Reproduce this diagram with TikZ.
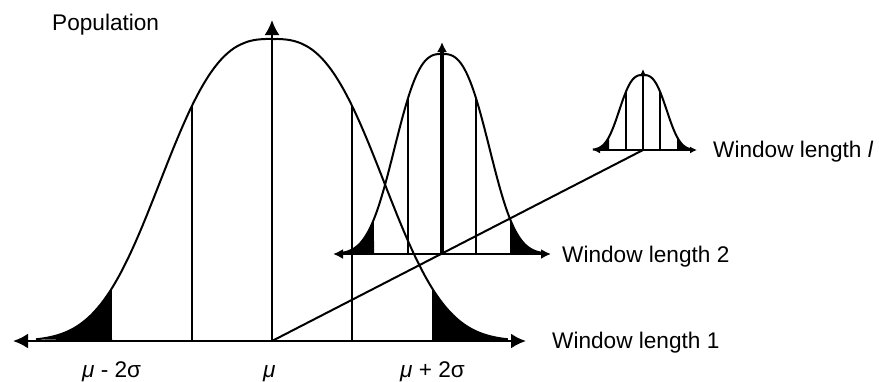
\documentclass[tikz,border=0pt]{standalone}
\usepackage{fontspec}
\setmainfont{Liberation Sans}
\usetikzlibrary{arrows.meta}
\tikzset{
  bigtip/.tip={Latex[length=15bp,width=15bp]},
  midtip/.tip={Latex[length=10bp,width=10bp]},
  smltip/.tip={Latex[length=7bp,width=7bp]},
  curve/.style={line width=2bp},
  tick/.style={line width=2bp},
  axisline/.style={line width=2.4bp},
  lbl/.style={font=\fontsize{22.7}{26}\selectfont, inner sep=0pt, anchor=base west}
}
% cx, axis y, sigma, height, left tip x, right tip x, top tip y, tip name, centre line width
\newcommand{\drawbell}[9]{%
  \def\bcx{#1}\def\bay{#2}\def\bsg{#3}\def\bht{#4}%
  \fill plot[domain=-2.95:-2, samples=30, smooth]
     ({\bcx+\x*\bsg},{\bay-\bht*exp(-0.25*pow(\x*\x+0.00001,1.4))}) -- ({\bcx-2*\bsg},\bay) -- cycle;
  \fill plot[domain=2:2.95, samples=30, smooth]
     ({\bcx+\x*\bsg},{\bay-\bht*exp(-0.25*pow(\x*\x+0.00001,1.4))}) -- ({\bcx+2.95*\bsg},\bay) -- ({\bcx+2*\bsg},\bay) -- cycle;
  \draw[tick] ({\bcx-\bsg},\bay) -- ({\bcx-\bsg},{\bay-\bht*exp(-0.25)});
  \draw[tick] ({\bcx+\bsg},\bay) -- ({\bcx+\bsg},{\bay-\bht*exp(-0.25)});
  \draw[curve] plot[domain=-2.95:2.95, samples=151, smooth]
     ({\bcx+\x*\bsg},{\bay-\bht*exp(-0.25*pow(\x*\x+0.00001,1.4))});
  \draw[axisline,#8-#8] (#5,\bay) -- (#6,\bay);
  \draw[line width=#9,-#8] (\bcx,\bay) -- (\bcx,#7);
}
\begin{document}
\begin{tikzpicture}[x=1bp,y=-1bp,line join=round]
\useasboundingbox (0,0) rectangle (879,381);
\drawbell{272}{341}{80}{302}{13}{526}{20}{bigtip}{2bp}
\drawbell{442}{254}{34}{200}{333}{551}{42}{midtip}{4bp}
\drawbell{643}{150}{17}{75}{593}{697}{69}{smltip}{2bp}
\coordinate (mu1) at (272,341);
\coordinate (mul) at (643,150);
\draw[curve] (mu1) -- (mul);
\node[lbl] (pop) at (52,30) {Population};
\node[lbl] (w1) at (552,348) {Window length 1};
\node[lbl] (w2) at (562,262) {Window length 2};
\node[lbl] (wl) at (713,157) {Window length \textit{l}};
\node[lbl] (m2) at (82,377) {\textit{μ} - 2σ};
\node[lbl] (m0) at (263,377) {\textit{μ}};
\node[lbl] (p2) at (400,377) {\textit{μ} + 2σ};
\end{tikzpicture}
\end{document}
